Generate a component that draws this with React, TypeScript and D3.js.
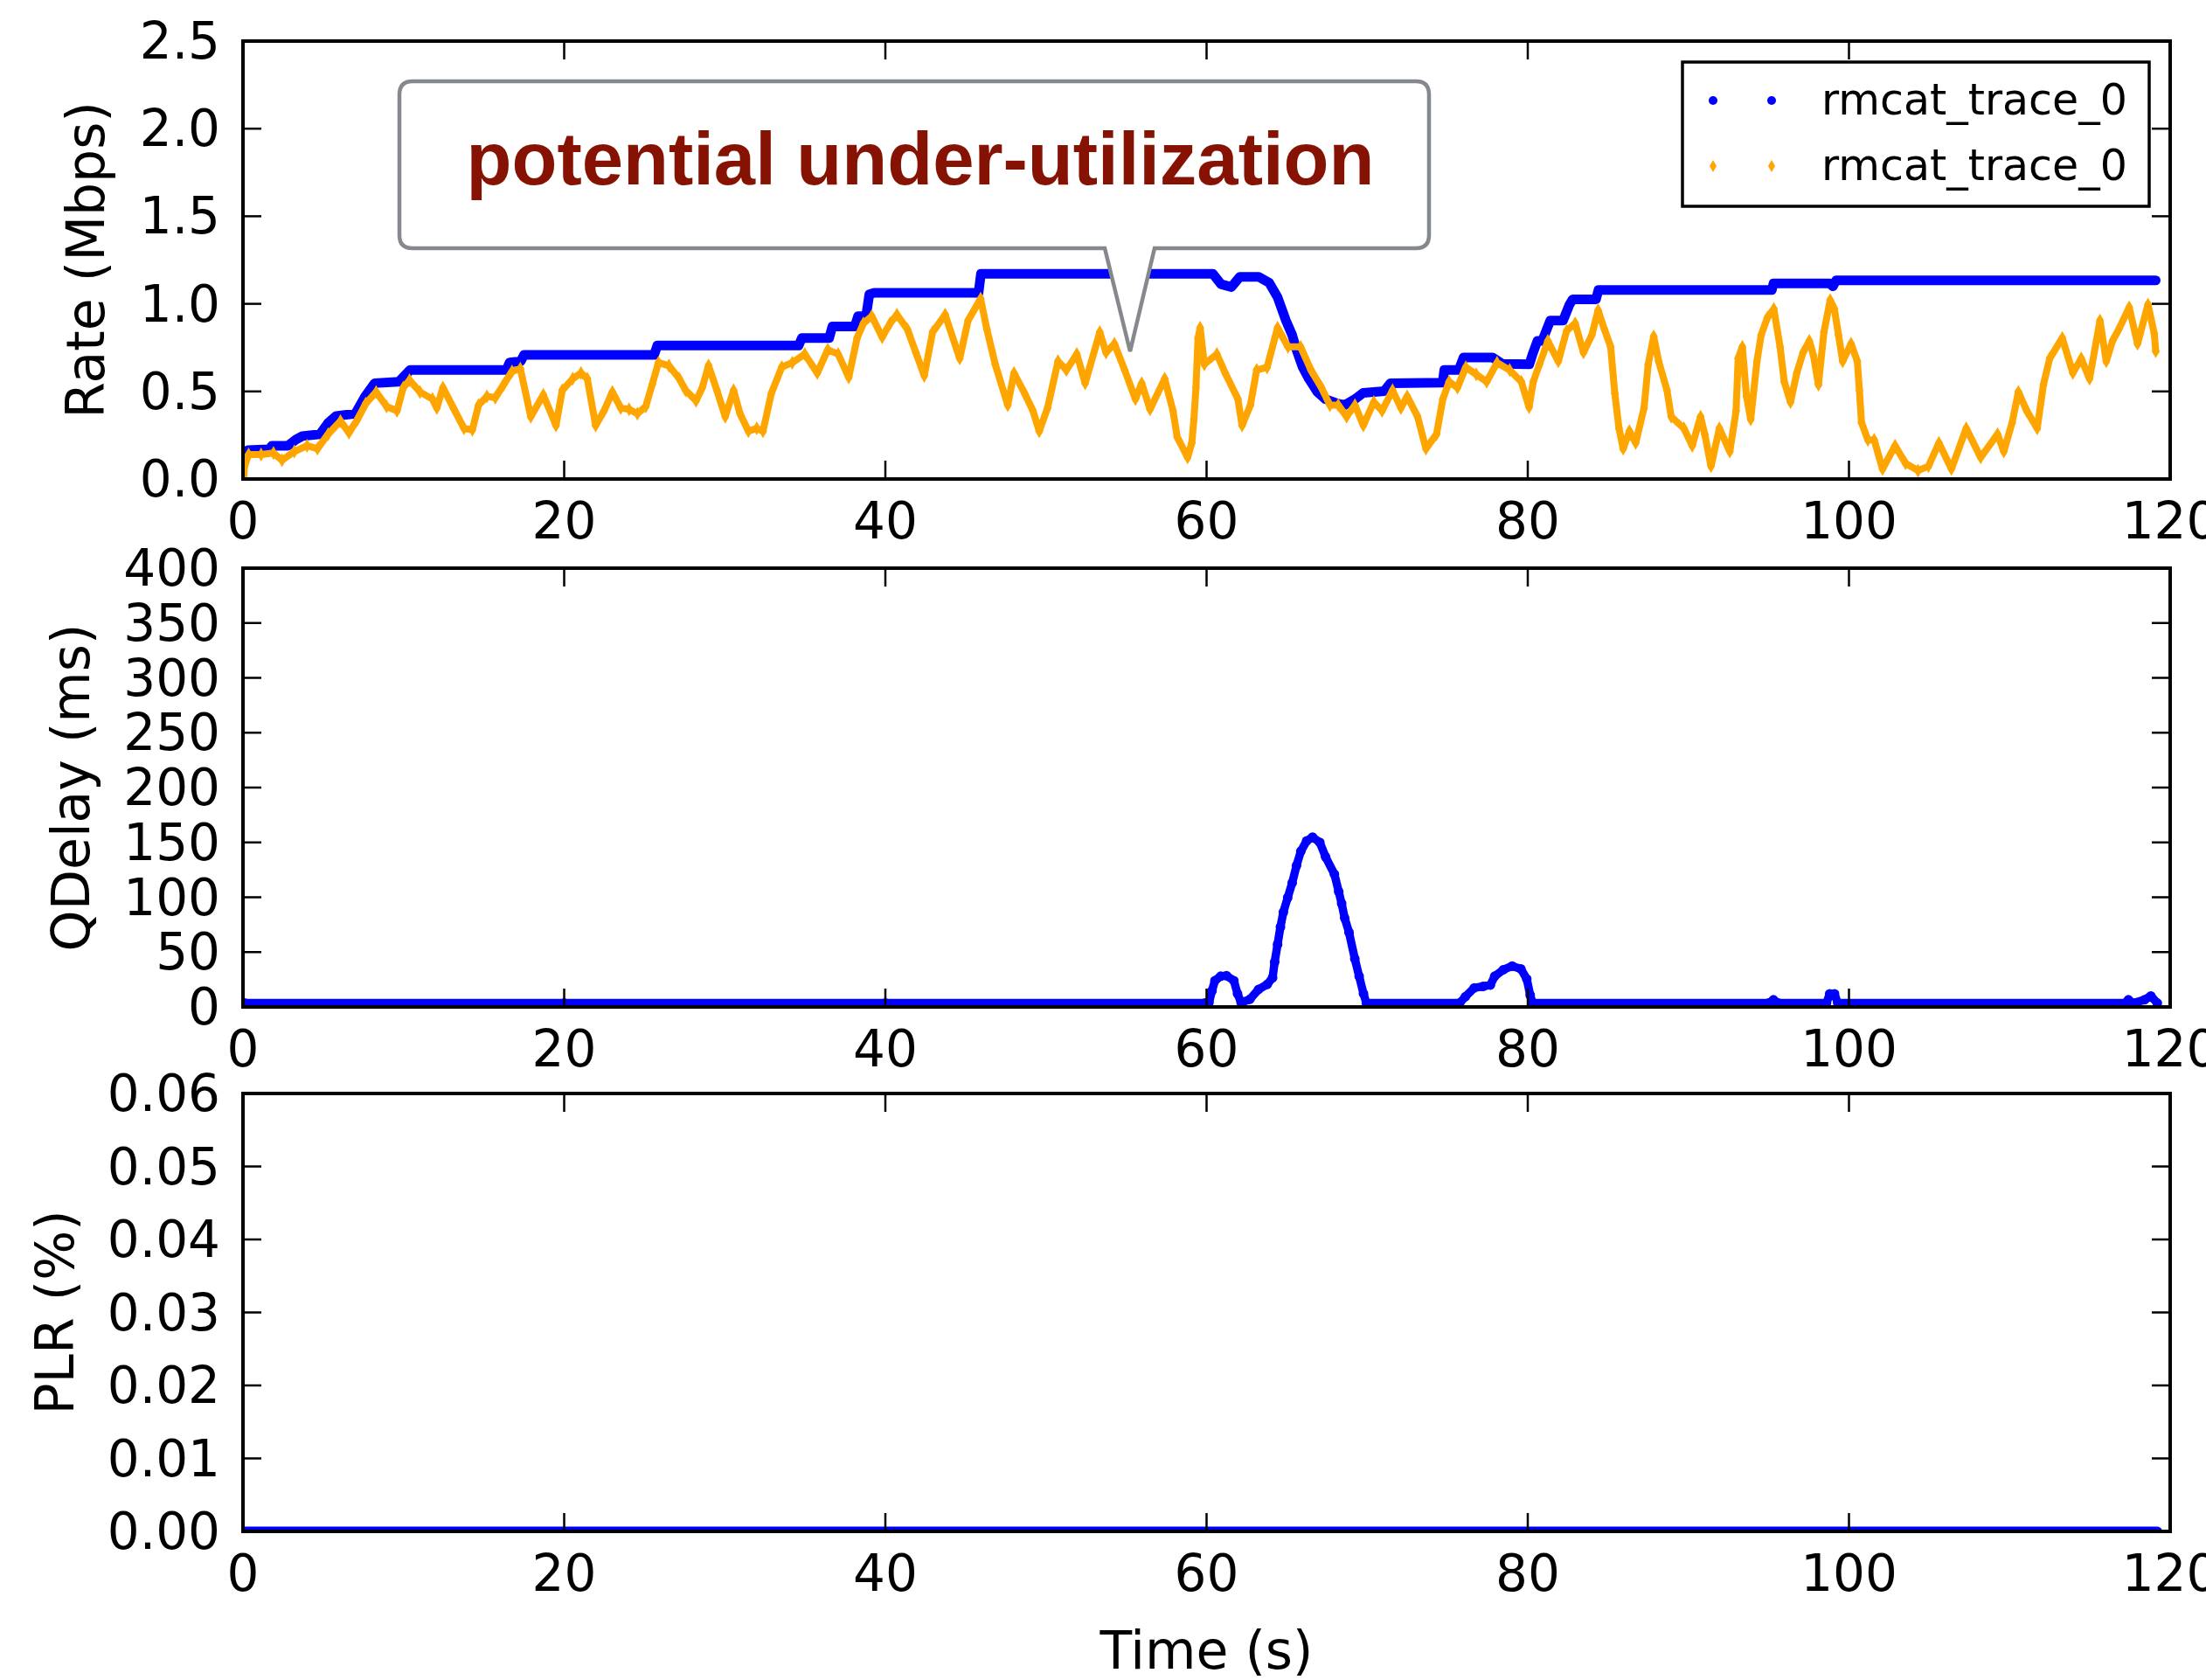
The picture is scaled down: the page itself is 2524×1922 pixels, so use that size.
import React from 'react';
import * as d3 from 'd3';

// ---------- tick labels / categories ----------
const xTicks = [0, 20, 40, 60, 80, 100, 120];
const rateTicks = [0, 0.5, 1.0, 1.5, 2.0, 2.5];
const qdelayTicks = [0, 50, 100, 150, 200, 250, 300, 350, 400];
const plrTicks = [0, 0.01, 0.02, 0.03, 0.04, 0.05, 0.06];
const seriesLabels = ['rmcat_trace_0', 'rmcat_trace_0'];
const annotationText = 'potential under-utilization';

// ---------- series: sending rate (blue) ----------
const rateTime = [0.1, 0.3, 1.65, 1.8, 2.8, 3.3, 3.7, 4.8, 5.3, 5.8, 7.0, 7.6, 8.2, 9.7, 10.4, 16.4, 16.6, 17.3, 17.5, 25.6, 25.8, 34.6, 34.8, 36.5, 36.7, 38.1, 38.3, 38.8, 39.0, 39.3, 45.8, 45.95, 60.4, 60.9, 61.55, 62.07, 63.25, 63.9, 64.42, 64.94, 65.33, 65.6, 65.98, 66.37, 66.9, 67.4, 68.2, 68.6, 69.24, 69.76, 71.06, 71.45, 74.7, 74.8, 75.7, 76.0, 77.8, 78.4, 80.1, 80.3, 80.6, 80.9, 81.4, 82.2, 82.6, 82.8, 84.25, 84.4, 95.2, 95.3, 98.8, 99.0, 99.2, 119.1];
const rateValue = [0.135, 0.165, 0.17, 0.19, 0.19, 0.225, 0.245, 0.256, 0.32, 0.36, 0.373, 0.47, 0.547, 0.555, 0.622, 0.622, 0.665, 0.672, 0.708, 0.708, 0.762, 0.762, 0.805, 0.805, 0.871, 0.871, 0.93, 0.93, 1.054, 1.063, 1.063, 1.171, 1.171, 1.112, 1.096, 1.154, 1.154, 1.12, 1.038, 0.905, 0.822, 0.738, 0.639, 0.572, 0.497, 0.456, 0.43, 0.422, 0.456, 0.492, 0.502, 0.547, 0.55, 0.622, 0.622, 0.694, 0.694, 0.658, 0.655, 0.713, 0.788, 0.788, 0.905, 0.905, 0.996, 1.026, 1.026, 1.079, 1.079, 1.116, 1.116, 1.1, 1.134, 1.134];

// ---------- series: trace capacity (orange) ----------
const traceTime = [0.05, 0.09, 0.35, 1.13, 1.9, 2.43, 3.2, 3.99, 4.64, 5.3, 6.07, 6.6, 7.12, 7.64, 8.29, 8.94, 9.59, 9.98, 10.37, 11.02, 11.8, 12.07, 12.45, 13.1, 13.76, 14.28, 14.67, 15.19, 15.71, 16.23, 16.75, 17.27, 17.92, 18.7, 19.49, 19.88, 20.53, 21.05, 21.44, 21.96, 22.48, 23.0, 23.52, 24.04, 24.56, 25.08, 25.48, 25.87, 26.52, 27.17, 27.56, 28.21, 28.6, 28.99, 29.51, 30.03, 30.55, 30.95, 31.47, 31.99, 32.38, 32.9, 33.55, 34.2, 34.98, 35.76, 36.41, 37.06, 37.72, 38.24, 38.63, 39.15, 39.8, 40.3, 40.72, 41.37, 41.9, 42.42, 42.94, 43.72, 44.63, 45.15, 45.93, 46.32, 46.84, 47.62, 48.01, 48.67, 49.19, 49.58, 50.1, 50.75, 51.27, 51.92, 52.44, 53.35, 53.74, 54.26, 54.9, 55.57, 55.96, 56.48, 57.39, 57.91, 58.17, 58.82, 59.08, 59.21, 59.34, 59.47, 59.6, 59.86, 60.64, 61.16, 61.95, 62.21, 62.73, 63.12, 63.77, 64.42, 65.07, 65.85, 66.5, 67.15, 67.68, 68.2, 68.72, 69.24, 69.76, 70.41, 70.93, 71.58, 72.1, 72.49, 73.14, 73.66, 74.32, 74.71, 75.1, 75.62, 76.14, 76.79, 77.44, 78.09, 78.87, 79.6, 80.08, 80.34, 80.73, 81.25, 81.9, 82.42, 82.95, 83.47, 83.99, 84.38, 84.77, 85.16, 85.42, 85.68, 85.94, 86.33, 86.72, 87.24, 87.5, 87.84, 88.15, 88.67, 88.93, 89.72, 90.24, 90.76, 91.02, 91.41, 91.93, 92.58, 92.97, 93.1, 93.36, 93.62, 93.88, 94.27, 94.53, 94.92, 95.32, 95.71, 95.97, 96.36, 96.75, 97.14, 97.53, 97.79, 98.1, 98.44, 98.83, 99.09, 99.35, 99.61, 100.13, 100.52, 100.65, 100.78, 101.18, 101.57, 102.09, 102.87, 103.52, 104.3, 104.95, 105.6, 106.38, 107.3, 108.2, 109.25, 109.64, 110.16, 110.55, 111.07, 111.72, 112.11, 112.5, 113.28, 113.94, 114.46, 114.98, 115.63, 116.02, 116.41, 116.8, 117.45, 117.97, 118.62, 119.01, 119.1];
const traceValue = [0.02, 0.07, 0.14, 0.14, 0.148, 0.107, 0.157, 0.19, 0.173, 0.256, 0.331, 0.264, 0.339, 0.43, 0.497, 0.414, 0.389, 0.522, 0.564, 0.497, 0.456, 0.406, 0.522, 0.406, 0.289, 0.281, 0.422, 0.472, 0.464, 0.539, 0.614, 0.63, 0.356, 0.48, 0.306, 0.506, 0.572, 0.605, 0.572, 0.306, 0.389, 0.497, 0.406, 0.398, 0.373, 0.414, 0.539, 0.664, 0.647, 0.572, 0.506, 0.447, 0.522, 0.647, 0.506, 0.356, 0.506, 0.373, 0.273, 0.289, 0.273, 0.489, 0.639, 0.664, 0.713, 0.605, 0.738, 0.713, 0.58, 0.805, 0.888, 0.93, 0.81, 0.89, 0.938, 0.855, 0.722, 0.589, 0.838, 0.938, 0.688, 0.905, 1.029, 0.855, 0.655, 0.422, 0.605, 0.489, 0.389, 0.273, 0.406, 0.672, 0.622, 0.713, 0.547, 0.838, 0.722, 0.772, 0.622, 0.456, 0.547, 0.398, 0.572, 0.389, 0.24, 0.123, 0.206, 0.34, 0.522, 0.805, 0.863, 0.655, 0.713, 0.605, 0.456, 0.306, 0.422, 0.622, 0.638, 0.863, 0.755, 0.755, 0.622, 0.522, 0.422, 0.422, 0.356, 0.422, 0.306, 0.439, 0.389, 0.506, 0.406, 0.472, 0.356, 0.173, 0.256, 0.456, 0.555, 0.522, 0.638, 0.597, 0.555, 0.664, 0.622, 0.555, 0.41, 0.555, 0.655, 0.788, 0.672, 0.846, 0.888, 0.722, 0.822, 0.963, 0.855, 0.755, 0.489, 0.289, 0.173, 0.273, 0.206, 0.406, 0.655, 0.813, 0.672, 0.506, 0.356, 0.289, 0.19, 0.356, 0.256, 0.073, 0.289, 0.157, 0.389, 0.688, 0.755, 0.472, 0.34, 0.672, 0.821, 0.921, 0.971, 0.755, 0.555, 0.439, 0.605, 0.722, 0.788, 0.705, 0.539, 0.838, 1.021, 0.971, 0.821, 0.672, 0.772, 0.672, 0.506, 0.322, 0.223, 0.223, 0.057, 0.19, 0.09, 0.048, 0.073, 0.206, 0.057, 0.289, 0.123, 0.256, 0.157, 0.322, 0.497, 0.389, 0.289, 0.539, 0.688, 0.805, 0.605, 0.688, 0.572, 0.905, 0.672, 0.788, 0.855, 0.979, 0.772, 0.996, 0.83, 0.73];

// ---------- series: queuing delay ----------
const qdelayTime = [0.1, 20, 40, 59.9, 60.15, 60.34, 60.52, 60.88, 61.24, 61.7, 61.93, 62.15, 62.7, 63.24, 63.78, 64.11, 64.24, 64.42, 64.6, 64.78, 65.05, 65.33, 65.6, 65.87, 66.23, 66.6, 67.05, 67.41, 67.96, 68.23, 68.41, 68.6, 68.87, 69.23, 69.5, 69.77, 69.95, 75.76, 76.12, 76.67, 77.21, 77.67, 77.94, 78.48, 79.03, 79.57, 79.94, 80.15, 80.3, 95.0, 95.3, 95.6, 98.6, 98.8, 99.1, 99.3, 117.2, 117.4, 117.7, 118.4, 118.8, 119.2];
const qdelayValue = [3.5, 3.5, 3.5, 3.5, 4, 14.8, 24, 28, 28.5, 24, 12, 4, 7, 16, 20.6, 26.7, 41, 57, 73, 86.4, 99.6, 113, 128.8, 142, 151.3, 154.8, 150, 136.8, 121, 105, 94.4, 81, 68, 44, 28, 12.2, 3.5, 3.5, 9.4, 17.4, 18.7, 20, 28, 33.9, 37.3, 34.7, 25.4, 10.8, 3.5, 3.5, 6.5, 3.5, 3.5, 12, 12, 3.5, 3.5, 6.5, 3.5, 6.5, 10, 3.5];

// ---------- series: packet loss ratio ----------
const plrTime = [0.1, 119.2];
const plrValue = [0, 0];

const FONT = '"DejaVu Sans", Verdana, sans-serif';
const BLUE = '#0000ff';
const ORANGE = '#ffa500';

export default function App() {
  React.useEffect(() => {
    document.body.style.margin = '0';
  }, []);

  const W = 2524;
  const H = 1922;
  const x = d3.scaleLinear().domain([0, 120]).range([278, 2483]);

  const panels = [
    { key: 'rate', top: 47, bottom: 548, domain: [0, 2.5], ticks: rateTicks, fmt: d3.format('.1f'), label: 'Rate (Mbps)', labelX: 119 },
    { key: 'qdelay', top: 650, bottom: 1152, domain: [0, 400], ticks: qdelayTicks, fmt: d3.format('d'), label: 'QDelay (ms)', labelX: 102 },
    { key: 'plr', top: 1251, bottom: 1752, domain: [0, 0.06], ticks: plrTicks, fmt: d3.format('.2f'), label: 'PLR (%)', labelX: 84 },
  ];
  const ys = panels.map((p) => d3.scaleLinear().domain(p.domain).range([p.bottom, p.top]));
  const [yRate, yQ, yP] = ys;
  const [x0, x1] = x.range();

  const idx = (arr: number[]) => arr.map((_, i) => i);
  const rateLine = d3.line<number>().x((i) => x(rateTime[i])).y((i) => yRate(rateValue[i]))(idx(rateTime)) || '';
  const traceLine = d3.line<number>().x((i) => x(traceTime[i])).y((i) => yRate(traceValue[i]))(idx(traceTime)) || '';
  const qLine = d3.line<number>().x((i) => x(qdelayTime[i])).y((i) => yQ(qdelayValue[i]))(idx(qdelayTime)) || '';
  const pLine = d3.line<number>().x((i) => x(plrTime[i])).y((i) => yP(plrValue[i]))(idx(plrTime)) || '';

  const diamond = 'M0,-8 L4.5,0 L0,8 L-4.5,0 Z';
  const legendDiamond = 'M0,-7 L4,0 L0,7 L-4,0 Z';

  // annotation box with callout pointer
  const bx0 = 457, by0 = 93, bx1 = 1635, by1 = 284, r = 15;
  const tipX = 1293, tipY = 402, baseL = 1264, baseR = 1321;
  const calloutPath = `M${bx0 + r},${by0} H${bx1 - r} Q${bx1},${by0} ${bx1},${by0 + r} V${by1 - r} Q${bx1},${by1} ${bx1 - r},${by1} H${baseR} L${tipX},${tipY} L${baseL},${by1} H${bx0 + r} Q${bx0},${by1} ${bx0},${by1 - r} V${by0 + r} Q${bx0},${by0} ${bx0 + r},${by0} Z`;

  return (
    <svg width={W} height={H} viewBox={`0 0 ${W} ${H}`} style={{ position: 'absolute', left: 0, top: 0, display: 'block', background: '#fff' }} fontFamily={FONT}>
      <rect x={0} y={0} width={W} height={H} fill="#fff" />
      <defs>
        {panels.map((p) => (
          <clipPath id={`clip-${p.key}`} key={p.key}>
            <rect x={x0} y={p.top} width={x1 - x0} height={p.bottom - p.top} />
          </clipPath>
        ))}
      </defs>

      {/* data */}
      <g clipPath="url(#clip-rate)">
        <path d={rateLine} fill="none" stroke={BLUE} strokeWidth={11} strokeLinejoin="round" strokeLinecap="round" />
        <path d={traceLine} fill="none" stroke={ORANGE} strokeWidth={8} strokeLinejoin="round" strokeLinecap="round" />
        {traceTime.map((t, i) => (
          <path key={i} d={diamond} transform={`translate(${x(t)},${yRate(traceValue[i])})`} fill={ORANGE} />
        ))}
      </g>
      <g clipPath="url(#clip-qdelay)">
        <path d={qLine} fill="none" stroke={BLUE} strokeWidth={9.5} strokeLinejoin="round" strokeLinecap="round" />
        {qdelayTime.map((t, i) => (
          <circle key={i} cx={x(t)} cy={yQ(qdelayValue[i])} r={5.5} fill={BLUE} />
        ))}
      </g>
      <g clipPath="url(#clip-plr)">
        <path d={pLine} fill="none" stroke={BLUE} strokeWidth={11} strokeLinecap="round" />
      </g>

      {/* axes */}
      {panels.map((p, pi) => {
        const y = ys[pi];
        return (
          <g key={p.key}>
            {p.ticks.map((v) => (
              <g key={`y${v}`}>
                <line x1={x0} x2={x0 + 21} y1={y(v)} y2={y(v)} stroke="#000" strokeWidth={2.5} />
                <line x1={x1} x2={x1 - 21} y1={y(v)} y2={y(v)} stroke="#000" strokeWidth={2.5} />
                <text x={252} y={y(v)} textAnchor="end" dominantBaseline="central" fontSize={58} fill="#000">
                  {p.fmt(v)}
                </text>
              </g>
            ))}
            {xTicks.map((t) => (
              <g key={`x${t}`}>
                <line x1={x(t)} x2={x(t)} y1={p.bottom} y2={p.bottom - 21} stroke="#000" strokeWidth={2.5} />
                <line x1={x(t)} x2={x(t)} y1={p.top} y2={p.top + 21} stroke="#000" strokeWidth={2.5} />
                <text x={x(t)} y={p.bottom + 48} textAnchor="middle" dominantBaseline="central" fontSize={58} fill="#000">
                  {t}
                </text>
              </g>
            ))}
            <rect x={x0} y={p.top} width={x1 - x0} height={p.bottom - p.top} fill="none" stroke="#000" strokeWidth={4} />
            <text transform={`translate(${p.labelX},${(p.top + p.bottom) / 2}) rotate(-90)`} textAnchor="middle" fontSize={60} fill="#000">
              {p.label}
            </text>
          </g>
        );
      })}

      <text x={(x0 + x1) / 2} y={1888} textAnchor="middle" dominantBaseline="central" fontSize={60} fill="#000">
        Time (s)
      </text>

      {/* legend */}
      <g>
        <rect x={1925} y={71} width={534} height={165} fill="#fff" stroke="#000" strokeWidth={3.5} />
        {[1960, 2027].map((lx) => (
          <circle key={`lb${lx}`} cx={lx} cy={115} r={5} fill={BLUE} />
        ))}
        {[1960, 2027].map((lx) => (
          <path key={`lo${lx}`} d={legendDiamond} transform={`translate(${lx},190)`} fill={ORANGE} />
        ))}
        <text x={2084} y={114} dominantBaseline="central" fontSize={49} fill="#000">{seriesLabels[0]}</text>
        <text x={2084} y={189} dominantBaseline="central" fontSize={49} fill="#000">{seriesLabels[1]}</text>
      </g>

      {/* annotation callout */}
      <path d={calloutPath} fill="#fff" stroke="#85888c" strokeWidth={4.5} strokeLinejoin="miter" />
      <text x={1053} y={211} textAnchor="middle" fontFamily='"Liberation Sans", Arial, sans-serif' fontWeight="bold" fontSize={85} fill="#861204">
        {annotationText}
      </text>
    </svg>
  );
}
